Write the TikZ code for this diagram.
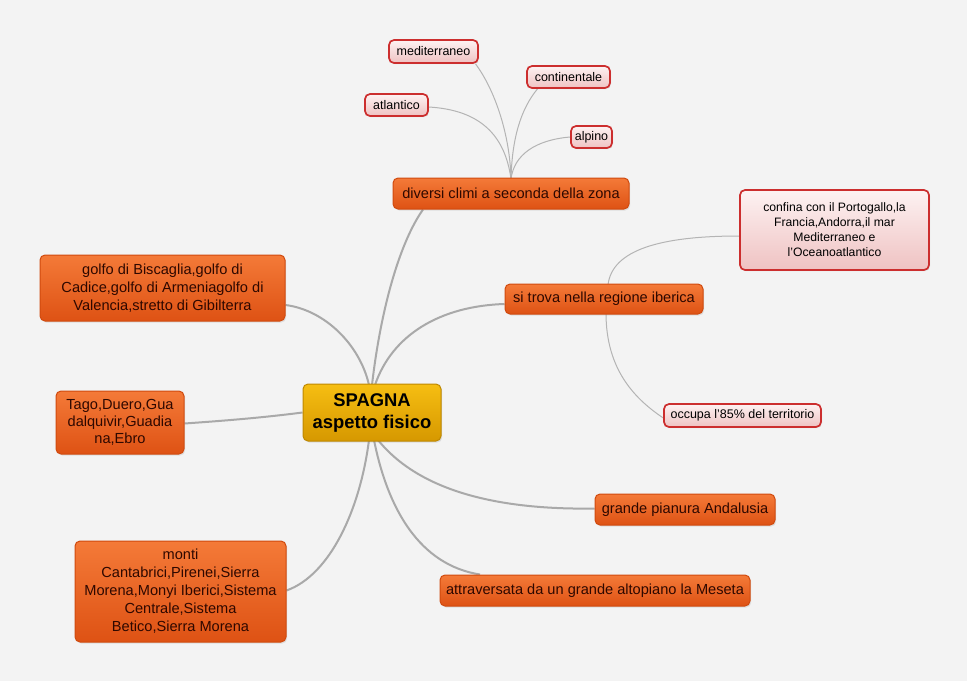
\documentclass[tikz,border=0pt]{standalone}
\usepackage{fontspec}
\setmainfont{Liberation Sans}
\usetikzlibrary{shadows}
\pgfdeclarelayer{bglayer}
\pgfdeclarelayer{lines}
\pgfsetlayers{bglayer,lines,main}
\definecolor{bg}{HTML}{F3F3F3}
\definecolor{conn}{HTML}{A9A9A9}
\definecolor{thin}{HTML}{B4B4B4}
\definecolor{orTop}{HTML}{F47A38}
\definecolor{orBot}{HTML}{DE5214}
\definecolor{orLine}{HTML}{D04A0E}
\definecolor{orText}{HTML}{2E0800}
\definecolor{pkTop}{HTML}{FDF2F2}
\definecolor{pkBot}{HTML}{EFC2C2}
\definecolor{pkLine}{HTML}{CC2E2E}
\definecolor{gdTop}{HTML}{F6BE12}
\definecolor{gdBot}{HTML}{D69800}
\definecolor{gdLine}{HTML}{BE8800}
\tikzset{
  orbox/.style={draw=orLine, line width=1pt, rounded corners=5pt, top color=orTop, bottom color=orBot,
    text=orText, font=\fontsize{14.6}{18}\selectfont, align=center, inner sep=0pt,
    drop shadow={opacity=0.18, shadow xshift=1.2pt, shadow yshift=-1.5pt}},
  pkbox/.style={draw=pkLine, line width=1.7pt, rounded corners=5pt, top color=pkTop, bottom color=pkBot,
    text=black, font=\fontsize{12.5}{15}\selectfont, align=center, inner sep=0pt,
    drop shadow={opacity=0.15, shadow xshift=1pt, shadow yshift=-1.2pt}},
  gdbox/.style={draw=gdLine, line width=1pt, rounded corners=5pt, top color=gdTop, bottom color=gdBot,
    text=black, font=\fontsize{18.4}{22}\selectfont\bfseries, align=center, inner sep=0pt,
    drop shadow={opacity=0.2, shadow xshift=1.2pt, shadow yshift=-1.5pt}},
  mainline/.style={draw=conn, line width=2pt},
  subline/.style={draw=thin, line width=1pt},
}
\begin{document}
\begin{tikzpicture}[x=1pt,y=-1pt]
\begin{pgfonlayer}{bglayer}
\fill[bg] (0,0) rectangle (967,681);
\end{pgfonlayer}
\useasboundingbox (0,0) rectangle (967,681);

\coordinate (cT1) at (372,385);
\coordinate (cT2) at (375,385);
\coordinate (cT3) at (369,385);
\coordinate (cB1) at (369,440);
\coordinate (cB2) at (374,440);
\coordinate (cB3) at (378,440);
\coordinate (dT) at (511,179);
\coordinate (sT) at (608,285);
\coordinate (sB) at (606,313);

\node[gdbox, minimum width=138pt, minimum height=57pt] (c) at (372,412.5) {SPAGNA\\aspetto fisico};

\node[orbox, minimum width=236pt, minimum height=31pt] (div) at (511,193.5) {diversi climi a seconda della zona};
\node[pkbox, minimum width=89pt, minimum height=23pt] (med) at (433.5,51.5) {mediterraneo};
\node[pkbox, minimum width=83pt, minimum height=22pt] (con) at (568.5,77) {continentale};
\node[pkbox, minimum width=63pt, minimum height=22pt] (atl) at (396.5,105) {atlantico};
\node[pkbox, minimum width=41pt, minimum height=22pt] (alp) at (591.5,137) {alpino};

\node[orbox, minimum width=198pt, minimum height=30pt] (si) at (604,299) {si trova nella regione iberica};
\node[pkbox, minimum width=189pt, minimum height=80pt, font=\fontsize{12.2}{15}\selectfont] (conf) at (834.5,230)
  {confina con il Portogallo,la\\Francia,Andorra,il mar\\Mediterraneo e\\l'Oceanoatlantico};
\node[pkbox, minimum width=157pt, minimum height=23pt] (occ) at (742.5,415.5) {occupa l'85\% del territorio};

\node[orbox, minimum width=180pt, minimum height=31pt] (gp) at (685,509.5) {grande pianura Andalusia};
\node[orbox, minimum width=310pt, minimum height=31pt] (att) at (595,590.5) {attraversata da un grande altopiano la Meseta};

\node[orbox, minimum width=245pt, minimum height=66pt] (gol) at (162.5,288)
  {golfo di Biscaglia,golfo di\\Cadice,golfo di Armeniagolfo di\\Valencia,stretto di Gibilterra};
\node[orbox, minimum width=128pt, minimum height=63pt, font=\fontsize{14.6}{17}\selectfont] (tag) at (120,422.5)
  {Tago,Duero,Gua\\dalquivir,Guadia\\na,Ebro};
\node[orbox, minimum width=211pt, minimum height=101pt] (mon) at (180.5,591.5)
  {monti\\Cantabrici,Pirenei,Sierra\\Morena,Monyi Iberici,Sistema\\Centrale,Sistema\\Betico,Sierra Morena};

\begin{pgfonlayer}{lines}
\draw[mainline] (cT1) .. controls (380,315) and (398,245) .. ([xshift=-88pt]div.south);
\draw[mainline] (cT2) .. controls (392,335) and (440,306) .. ([yshift=-5pt]si.west);
\draw[mainline] (cT3) .. controls (360,345) and (325,310) .. ([yshift=-17pt]gol.east);
\draw[mainline] (c.west) .. controls (260,418) and (220,421) .. ([yshift=-1pt]tag.east);
\draw[mainline] (cB1) .. controls (360,510) and (330,575) .. ([yshift=1pt]mon.east);
\draw[mainline] (cB2) .. controls (388,510) and (420,565) .. ([xshift=-115pt]att.north);
\draw[mainline] (cB3) .. controls (420,492) and (500,510) .. ([yshift=1pt]gp.west);

\draw[subline] (dT) .. controls (510,135) and (495,90) .. ([xshift=42pt]med.south);
\draw[subline] (dT) .. controls (512,140) and (520,110) .. ([xshift=-31pt]con.south);
\draw[subline] (dT) .. controls (505,135) and (480,110) .. ([yshift=-2pt]atl.east);
\draw[subline] (dT) .. controls (514,155) and (535,140) .. (alp.west);
\draw[subline] (sT) .. controls (612,250) and (660,236) .. ([yshift=-6pt]conf.west);
\draw[subline] (sB) .. controls (606,370) and (635,400) .. ([xshift=4pt,yshift=-5pt]occ.west);
\end{pgfonlayer}
\end{tikzpicture}
\end{document}
